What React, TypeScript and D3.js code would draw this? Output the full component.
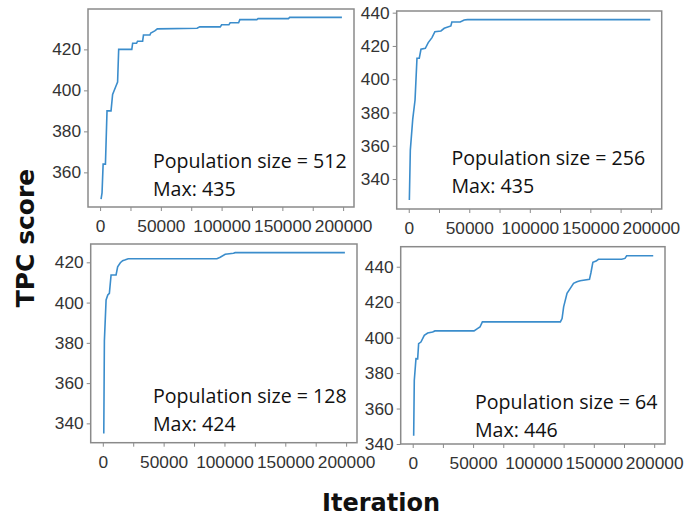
import React, { useEffect, useRef } from "react";
import * as d3 from "d3";

// iteration / best TPC score
const iter512 = [800, 1600, 2500, 4400, 5700, 9000, 10300, 13000, 14400, 15300, 26100, 26800, 30000, 30800, 35000, 35700, 41000, 41700, 45000, 47100, 79800, 82000, 98900, 100000, 106000, 107000, 114000, 115000, 129000, 130000, 155000, 156000, 199000];
const score512 = [347, 350, 364, 364, 390, 390, 398, 402, 404, 420, 420, 423, 423, 424, 424, 427, 427, 428, 429, 430, 430.3, 431, 431, 432, 432, 433, 433, 434.5, 434.5, 435, 435, 435.6, 435.6];

const iter256 = [500, 1300, 3300, 5200, 6800, 8700, 10100, 13700, 16100, 19200, 21600, 26600, 29300, 34800, 35600, 42500, 45800, 48500, 199500];
const score256 = [327.4, 357.4, 376, 387.5, 412.6, 412.6, 418, 418.6, 422, 425, 428.6, 429, 430.6, 432, 434.4, 434.4, 435.6, 435.8, 435.8];

const iter128 = [800, 1300, 2700, 4100, 5400, 6800, 10900, 12200, 14400, 16300, 18000, 20900, 93800, 96500, 100600, 107400, 108800, 199000];
const score128 = [335, 381, 401.3, 403.8, 404.6, 413.7, 413.7, 417.8, 419.8, 420.8, 421.1, 421.8, 421.8, 422.5, 424, 424.5, 424.8, 424.8];

const iter64 = [800, 1300, 2700, 4100, 4900, 6800, 9600, 12400, 16500, 18400, 50800, 53600, 55700, 57700, 122300, 123700, 125000, 127800, 130500, 133200, 136000, 138700, 146400, 147600, 149200, 151900, 153800, 173100, 175800, 177200, 199200];
const score64 = [344.7, 375.8, 388.1, 388, 396.6, 397.5, 401.3, 402.6, 403.2, 403.8, 403.8, 405.1, 406, 408.9, 408.9, 410.8, 417.4, 425, 427.8, 430.6, 431.5, 432.1, 432.9, 436.6, 442.5, 443.2, 444.2, 444.2, 444.7, 446.2, 446.2];

const popSizes = [512, 256, 128, 64];
const maxScores = [435, 435, 424, 446];
const yTickSets = [[360, 380, 400, 420], [340, 360, 380, 400, 420, 440], [340, 360, 380, 400, 420], [340, 360, 380, 400, 420, 440]];
const xTicks = [0, 25000, 50000, 75000, 100000, 125000, 150000, 175000, 200000];

// layout of the four panels
const panels = [
  { it: iter512, sc: score512, box: [88, 9, 354, 207], yDom: [343.1, 439.7], tx: 153, ty: 168 },
  { it: iter256, sc: score256, box: [396.7, 11, 661.7, 209], yDom: [322, 441], tx: 451.5, ty: 165 },
  { it: iter128, sc: score128, box: [90.7, 244, 357, 442.7], yDom: [330.4, 429.1], tx: 153, ty: 403 },
  { it: iter64, sc: score64, box: [400.7, 246.7, 665, 444], yDom: [340, 451.3], tx: 475, ty: 409 },
];

export default function App() {
  const ref = useRef<SVGSVGElement>(null);

  useEffect(() => {
    const svg = d3.select(ref.current);
    svg.selectAll("*").remove();

    panels.forEach((p, i) => {
      const [x0, y0, x1, y1] = p.box;
      const x = d3.scaleLinear().domain([-9950, 208950]).range([x0, x1]);
      const y = d3.scaleLinear().domain(p.yDom).range([y1, y0]);
      const g = svg.append("g");

      const xAxis = d3.axisBottom(x).tickValues(xTicks).tickSize(4).tickPadding(9)
        .tickFormat((d: any) => (d % 50000 === 0 ? String(d) : ""));
      const gx = g.append("g").attr("transform", `translate(0,${y1})`).call(xAxis);
      const yAxis = d3.axisLeft(y).tickValues(yTickSets[i]).tickSize(4).tickPadding(3);
      const gy = g.append("g").attr("transform", `translate(${x0},0)`).call(yAxis);
      [gx, gy].forEach(a => {
        a.select(".domain").remove();
        a.selectAll("line").attr("stroke", "#8a8a8a").attr("stroke-width", 1);
        a.selectAll("text").attr("fill", "#333").style("font-family", "'Liberation Sans', Arial, sans-serif").style("font-size", "17.3px");
      });

      g.append("rect").attr("x", x0).attr("y", y0).attr("width", x1 - x0).attr("height", y1 - y0)
        .attr("fill", "none").attr("stroke", "#8a8a8a").attr("stroke-width", 1.5);

      const pts = p.it.map((v, k) => [v, p.sc[k]] as [number, number]);
      g.append("path").datum(pts)
        .attr("d", d3.line<[number, number]>().x(d => x(d[0])).y(d => y(d[1])))
        .attr("fill", "none").attr("stroke", "#3b8dcc").attr("stroke-width", 1.6);

      const t = g.append("text").attr("x", p.tx).attr("y", p.ty).attr("fill", "#111")
        .style("font-family", "'Open Sans', sans-serif").style("font-size", "19.6px");
      t.append("tspan").attr("x", p.tx).text(`Population size = ${popSizes[i]}`);
      t.append("tspan").attr("x", p.tx).attr("dy", 27.5).text(`Max: ${maxScores[i]}`);
    });

    svg.append("text").attr("transform", "translate(33.5,238) rotate(-90)").attr("text-anchor", "middle")
      .style("font-family", "'DejaVu Sans', sans-serif").style("font-weight", "bold").style("font-size", "25px")
      .attr("fill", "#111").text("TPC score");
    svg.append("text").attr("x", 381).attr("y", 510.5).attr("text-anchor", "middle")
      .style("font-family", "'DejaVu Sans', sans-serif").style("font-weight", "bold").style("font-size", "24px")
      .attr("fill", "#111").text("Iteration");
  }, []);

  return <svg ref={ref} width={689} height={516} style={{ position: "absolute", left: 0, top: 0, background: "#fff" }} />;
}
